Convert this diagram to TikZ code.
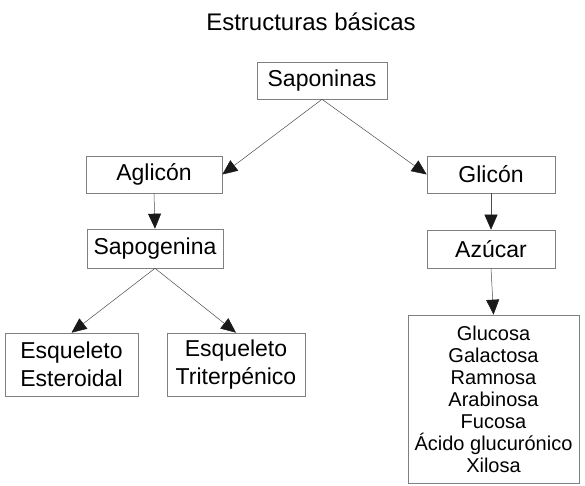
\documentclass[tikz,border=0pt]{standalone}
\usepackage{fontspec}
\setmainfont{Liberation Sans}
\usepackage{tikz}
\usetikzlibrary{arrows.meta, positioning}

\begin{document}
\begin{tikzpicture}[
  x=1pt, y=-1pt,
  box/.style   = {draw=black!50, line width=0.6pt, minimum height=37pt,
                  inner sep=0pt, align=center, font=\fontsize{23}{28}\selectfont},
  tall/.style  = {box, minimum height=63pt},
  lista/.style = {draw=black!50, line width=0.6pt, minimum width=171pt,
                  minimum height=168pt, inner sep=0pt, align=center,
                  font=\fontsize{20}{22}\selectfont},
  arr/.style   = {-{Triangle[length=15pt,width=13pt,color=black!90]},
                  draw=black!70, line width=0.5pt},
]
\useasboundingbox (0,0) rectangle (585,486);

%% Title
\node[font=\fontsize{24}{28}\selectfont] (titulo) at (311,22) {Estructuras básicas};

%% Root
\node[box, minimum width=130pt] (sap) at (322,80.5) {Saponinas};

%% Left branch
\node[box, minimum width=136pt] (agl)  at (154,174.5) {Aglicón};
\node[box, minimum width=136pt, minimum height=39pt] (sapo) at (155,248.5) {Sapogenina};
\node[tall, minimum width=133pt] (est) at (71.5,364.5) {Esqueleto\\Esteroidal};
\node[tall, minimum width=138pt] (tri) at (236,364.5) {Esqueleto\\Triterpénico};

%% Right branch
\node[box, minimum width=128pt] (gli) at (491,174.5) {Glicón};
\node[box, minimum width=128pt, minimum height=38pt] (azu) at (491,249) {Azúcar};
\node[lista] (azucares) at (493.5,399)
     {Glucosa\\Galactosa\\Ramnosa\\Arabinosa\\Fucosa\\Ácido glucurónico\\Xilosa};

%% Connectors
\draw[arr] (sap.south)  -- (agl.east);
\draw[arr] (sap.south)  -- (gli.west);
\draw[arr] (agl.south)  -- (sapo.north);
\draw[arr] (sapo.south) -- (est.north);
\draw[arr] (sapo.south) -- (tri.north);
\draw[arr] (gli.south)  -- (azu.north);
\draw[arr] (azu.south)  -- (azucares.north);

\end{tikzpicture}
\end{document}
